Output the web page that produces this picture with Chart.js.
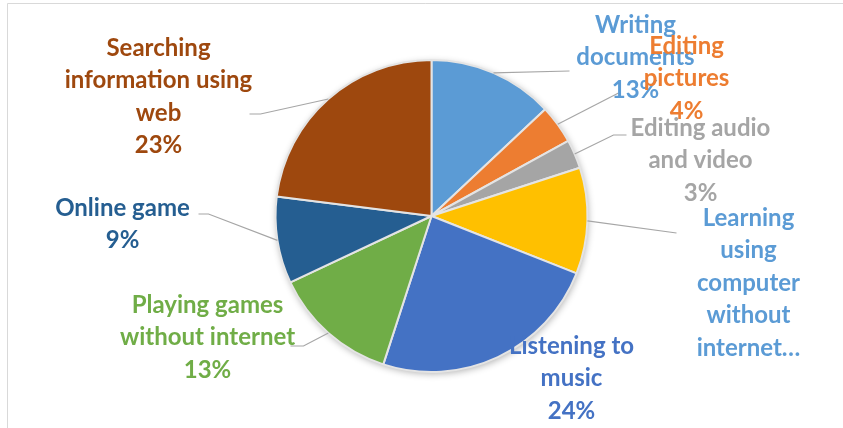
<!DOCTYPE html>
<html lang="en">
<head>
  <meta charset="UTF-8">
  <title>Computer usage</title>
  <script src="https://cdn.jsdelivr.net/npm/chart.js"></script>
  <style>
    body {
      margin: 0;
      background: #fff;
    }
    .chart-container {
      position: relative;
      width: 843px;
      height: 428px;
    }
  </style>
</head>
<body>
  <div class="chart-container">
    <canvas id="pieChart" width="843" height="428"></canvas>
  </div>

  <script>
    const categories = [
      'Writing documents',
      'Editing pictures',
      'Editing audio and video',
      'Learning using computer without internet',
      'Listening to music',
      'Playing games without internet',
      'Online game',
      'Searching information using web'
    ];
    const shares = [13, 4, 3, 11, 24, 13, 9, 23];
    // label text as wrapped in the picture (the learning one is cut off, no percent)
    const labelLines = [
      ['Writing', 'documents'],
      ['Editing', 'pictures'],
      ['Editing audio', 'and video'],
      ['Learning', 'using', 'computer', 'without', 'internet…'],
      ['Listening to', 'music'],
      ['Playing games', 'without internet'],
      ['Online game'],
      ['Searching', 'information using', 'web']
    ];
    const showPercent = [true, true, true, false, true, true, true, true];

    const sliceColors = ['#5B9BD5', '#ED7D31', '#A5A5A5', '#FFC000', '#4472C4', '#70AD47', '#255E91', '#9E480E'];
    const textColors  = ['#5B9BD5', '#ED7D31', '#A5A5A5', '#5B9BD5', '#4472C4', '#70AD47', '#255E91', '#9E480E'];

    // label placement, offsets from the pie centre in px
    const labelPlace = [
      { x: 204, y: -191, line: [[138, -145]] },
      { x: 255, y: -170, line: [[187, -123]] },
      { x: 269, y: -88,  line: [[182, -81], [195, -81]] },
      { x: 317, y: 2,    line: [[245, 17]] },
      { x: 140, y: 130,  line: null },
      { x: -224, y: 89,  line: [[-128, 130], [-141, 130]] },
      { x: -309, y: -8,  line: [[-223, -2], [-233, -2]] },
      { x: -273, y: -168, line: [[-171, -102], [-182, -102]] }
    ];
    const lineHeight = 32.5;
    const labelFont = 'bold 24px Lato, "Open Sans", sans-serif';

    const framePlugin = {
      id: 'frame',
      beforeDraw(chart) {
        const c = chart.ctx;
        c.save();
        c.fillStyle = '#fff';
        c.fillRect(0, 0, chart.width, chart.height);
        c.strokeStyle = '#d9d9d9';
        c.lineWidth = 1;
        c.beginPath();
        c.moveTo(7.5, chart.height);
        c.lineTo(7.5, 3.5);
        c.lineTo(chart.width, 3.5);
        c.stroke();
        c.restore();
      },
      beforeDatasetsDraw(chart) {
        const arc = chart.getDatasetMeta(0).data[0];
        const c = chart.ctx;
        c.save();
        c.shadowColor = 'rgba(0,0,0,0.3)';
        c.shadowBlur = 7;
        c.shadowOffsetX = 1;
        c.shadowOffsetY = 2;
        c.fillStyle = '#fff';
        c.beginPath();
        c.arc(arc.x, arc.y, arc.outerRadius, 0, Math.PI * 2);
        c.fill();
        c.restore();
      }
    };

    const labelPlugin = {
      id: 'outsideLabels',
      afterDatasetsDraw(chart) {
        const c = chart.ctx;
        const arcs = chart.getDatasetMeta(0).data;
        c.save();
        arcs.forEach((arc, i) => {
          const cx = arc.x, cy = arc.y;
          const place = labelPlace[i];
          if (place.line) {
            const mid = (arc.startAngle + arc.endAngle) / 2;
            c.strokeStyle = '#a6a6a6';
            c.lineWidth = 1.2;
            c.beginPath();
            c.moveTo(cx + Math.cos(mid) * arc.outerRadius, cy + Math.sin(mid) * arc.outerRadius);
            place.line.forEach(p => c.lineTo(cx + p[0], cy + p[1]));
            c.stroke();
          }
        });
        arcs.forEach((arc, i) => {
          const place = labelPlace[i];
          const lines = labelLines[i].slice();
          if (showPercent[i]) lines.push(shares[i] + '%');
          c.font = labelFont;
          c.fillStyle = textColors[i];
          c.textAlign = 'center';
          c.textBaseline = 'middle';
          lines.forEach((t, k) => {
            c.fillText(t, arc.x + place.x, arc.y + place.y + k * lineHeight);
          });
        });
        c.restore();
      }
    };

    new Chart(document.getElementById('pieChart'), {
      type: 'pie',
      data: {
        labels: categories,
        datasets: [{
          data: shares,
          backgroundColor: sliceColors,
          borderColor: '#e4e4e4',
          borderWidth: 2
        }]
      },
      options: {
        responsive: false,
        animation: false,
        layout: {
          padding: { left: 274, right: 254, top: 59, bottom: 55 }
        },
        plugins: {
          legend: { display: false },
          tooltip: { enabled: false }
        }
      },
      plugins: [framePlugin, labelPlugin]
    });
  </script>
</body>
</html>
